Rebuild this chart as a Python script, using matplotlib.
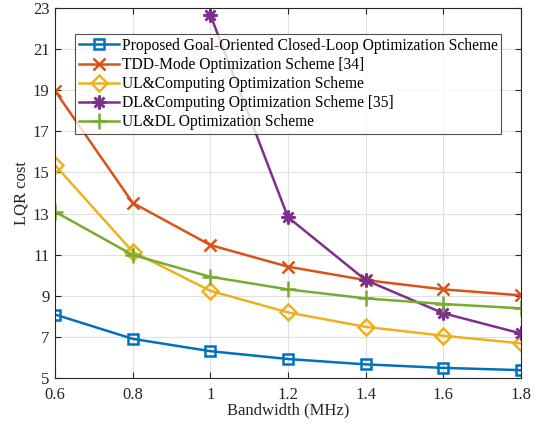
import numpy as np
import matplotlib
matplotlib.use("Agg")
import matplotlib.pyplot as plt

plt.rcParams['font.family'] = ['Liberation Serif', 'DejaVu Serif']
plt.rcParams['mathtext.fontset'] = 'stix'

bandwidth = [0.6, 0.8, 1.0, 1.2, 1.4, 1.6, 1.8]

proposed = [8.10, 6.92, 6.32, 5.94, 5.68, 5.51, 5.40]
tdd_mode = [18.95, 13.52, 11.47, 10.42, 9.77, 9.32, 9.03]
ul_computing = [15.35, 11.15, 9.25, 8.20, 7.50, 7.07, 6.70]
dl_computing = [np.nan, np.nan, 22.64, 12.82, 9.77, 8.16, 7.18]
ul_dl = [13.09, 10.99, 9.93, 9.32, 8.88, 8.61, 8.40]

labels = [
    "Proposed Goal-Oriented Closed-Loop Optimization Scheme",
    "TDD-Mode Optimization Scheme [34]",
    "UL&Computing Optimization Scheme",
    "DL&Computing Optimization Scheme [35]",
    "UL&DL Optimization Scheme",
]
colors = ["#0072BD", "#D95319", "#EDB120", "#7E2F8E", "#77AC30"]
markers = ["s", "x", "D", (8, 2, 0), "+"]
sizes = [7, 8, 8.5, 10, 11]

xticks = [0.6, 0.8, 1.0, 1.2, 1.4, 1.6, 1.8]
xticklabels = ["0.6", "0.8", "1", "1.2", "1.4", "1.6", "1.8"]
yticks = [5, 7, 9, 11, 13, 15, 17, 19, 21, 23]

fig = plt.figure(figsize=(5.41, 4.29), dpi=100)
ax = fig.add_axes([0.1017, 0.118, 0.8613, 0.8645])

series = [proposed, tdd_mode, ul_computing, dl_computing, ul_dl]
for ys, lab, c, m, s in zip(series, labels, colors, markers, sizes):
    kw = dict(color=c, lw=1.8, marker=m, markersize=s, label=lab,
              markeredgewidth=1.8)
    if m in ("s", "D"):
        kw.update(markerfacecolor="none")
    ax.plot(bandwidth, ys, **kw)

ax.set_xlim(0.6, 1.8)
ax.set_ylim(5, 23)
ax.set_xticks(xticks)
ax.set_xticklabels(xticklabels)
ax.set_yticks(yticks)
ax.grid(True, color="#e0e0e0", lw=0.8)
ax.set_axisbelow(True)
ax.tick_params(direction="in", length=4, labelsize=12, colors="#262626",
               top=True, right=True, width=0.8)
ax.tick_params(axis="x", pad=6)
ax.tick_params(axis="y", pad=4)
for sp in ax.spines.values():
    sp.set_color("#262626")
    sp.set_linewidth(0.8)

ax.set_xlabel("Bandwidth (MHz)", fontsize=12, color="#262626", labelpad=0)
ax.set_ylabel("LQR cost", fontsize=12, color="#262626", labelpad=2)

leg = ax.legend(loc="upper left", bbox_to_anchor=(75 / 541, 1 - 34 / 429),
                bbox_transform=fig.transFigure, fontsize=11.2, frameon=True,
                fancybox=False, borderpad=0.25, labelspacing=0.2,
                handlelength=2.6, handletextpad=0.15, borderaxespad=0)
leg.get_frame().set_edgecolor("#262626")
leg.get_frame().set_linewidth(0.8)

fig.savefig("out.png", dpi=100)
